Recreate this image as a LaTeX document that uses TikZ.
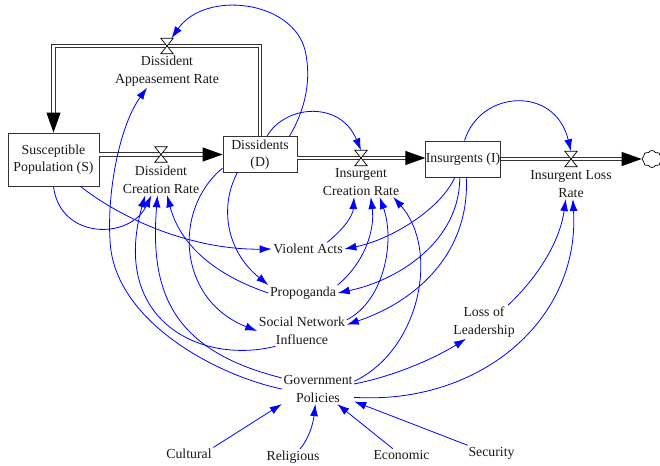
\documentclass[tikz,border=0pt]{standalone}
\usepackage{fontspec}
\setmainfont{Liberation Serif}
\usetikzlibrary{arrows.meta,shapes.symbols}
\begin{document}
\begin{tikzpicture}[x=1pt,y=-1pt,
  every node/.style={font=\fontsize{13.8}{17.5}\selectfont, inner sep=1.5pt, text=black!90},
  stock/.style={draw=black!80, line width=0.9pt, fill=white, align=center, inner sep=0pt},
  lbl/.style={align=center},
  valve/.style={minimum width=12pt, minimum height=15pt, inner sep=0pt},
  valveshape/.style={fill=white, draw=black, line width=0.7pt, line join=miter},
  pipe/.style={draw=black!80, line width=1pt, double=white, double distance=2.3pt},
  pipetip/.style={-{Triangle[length=20pt,width=14pt,color=black]}},
  inf/.style={draw=blue, line width=0.8pt, -{Latex[length=12pt,width=8pt]}}]
\useasboundingbox (0,0) rectangle (660,465);

% stocks
\node[stock, minimum width=91pt, minimum height=53pt] (S) at (53.5,159.5) {Susceptible\\Population (S)};
\node[stock, minimum width=74pt, minimum height=36pt] (D) at (260,154.5) {Dissidents\\(D)};
\node[stock, minimum width=74pt, minimum height=36pt] (I) at (463,159) {Insurgents (I)};

% valves (positions)
\node[valve] (v1) at (167,46) {};
\node[valve] (v2) at (161,154.5) {};
\node[valve] (v3) at (361,158) {};
\node[valve] (v4) at (571,159) {};
\node[cloud, draw=black, line width=0.7pt, cloud puffs=8, cloud puff arc=120, aspect=1.1, minimum width=20pt, minimum height=17pt, inner sep=0pt] (cl) at (652,159) {};

% pipes
\draw[pipe, pipetip] (D.north) |- (v1.center) -| (S.north);
\draw[pipe, pipetip] (S.east |- D.west) -- (D.west);
\draw[pipe, pipetip] (D.east |- v3.center) -- (I.west |- v3.center);
\draw[pipe, pipetip] (I.east |- v4.center) -- (cl.west);

\foreach \v in {v1,v2,v3,v4}
  \filldraw[valveshape] (\v.north west) -- (\v.north east) -- (\v.south west) -- (\v.south east) -- cycle;

% labels
\node[lbl] (lab1) at (167,71) {Dissident\\Appeasement Rate};
\node[lbl] (lab2) at (161,180) {Dissident\\Creation Rate};
\node[lbl] (lab3) at (361,182) {Insurgent\\Creation Rate};
\node[lbl] (lab4) at (571,184) {Insurgent Loss\\Rate};
\node (va) at (308,249) {Violent Acts};
\node (pr) at (303,293) {Propoganda};
\node[lbl] (sni) at (302,331) {Social Network\\Influence};
\node[lbl] (lol) at (484,322) {Loss of\\Leadership};
\node[lbl] (gp) at (318,389) {Government\\Policies};
\node (cu) at (189,454) {Cultural};
\node (re) at (293,457) {Religious};
\node (ec) at (401.5,455) {Economic};
\node (se) at (491.5,453) {Security};

% information links
\draw[inf] (D.32) .. controls (305,110) and (312,80) .. (305,50) .. controls (292,0) and (205,-10) .. (v1.60);
\draw[inf] (D.69) .. controls (285,105) and (340,100) .. (v3.north);
\draw[inf] (I.85) .. controls (480,90) and (555,85) .. (v4.north);
\draw[inf] (S.south) .. controls (60,240) and (130,240) .. (lab2.-122);
\draw[inf] (S.-45) .. controls (130,225) and (200,250) .. (va.west);
\draw[inf] (D.200) .. controls (172,210) and (178,300) .. (sni.west);
\draw[inf] (D.219) .. controls (220,205) and (225,250) .. (pr.north west);
\draw[inf] (sni.210) .. controls (200,365) and (110,320) .. (lab2.224);
\draw[inf] (gp.163) .. controls (170,350) and (150,290) .. (lab2.-103);
\draw[inf] (gp.west) .. controls (215,375) and (113,320) .. (110,240) .. controls (107,190) and (120,125) .. (lab1.220);
\draw[inf] (pr.west) .. controls (215,275) and (180,245) .. (lab2.-68);
\draw[inf] (va.19) .. controls (345,228) and (353,215) .. (lab3.-115);
\draw[inf] (pr.north east) .. controls (365,262) and (375,230) .. (lab3.-57);
\draw[inf] (sni.14) .. controls (385,300) and (395,240) .. (lab3.-39);
\draw[inf] (gp.12) .. controls (420,350) and (440,250) .. (lab3.-25);
\draw[inf] (I.-114) .. controls (440,210) and (390,240) .. (va.east);
\draw[inf] (I.-100) .. controls (460,240) and (400,280) .. (pr.east);
\draw[inf] (I.-80) .. controls (470,250) and (420,300) .. (sni.8);
\draw[inf] (lol.35) .. controls (540,275) and (560,240) .. (lab4.-109);
\draw[inf] (gp.-13) .. controls (480,405) and (580,320) .. (lab4.-83);
\draw[inf] (gp.8) .. controls (400,375) and (440,355) .. (lol.223);
\draw[inf] (cu.north east) -- (gp.south west);
\draw[inf] (re.49) .. controls (308,440) and (313,425) .. (gp.-100);
\draw[inf] (ec.144) -- (gp.-38);
\draw[inf] (se.162) -- (gp.-19);
\end{tikzpicture}
\end{document}
